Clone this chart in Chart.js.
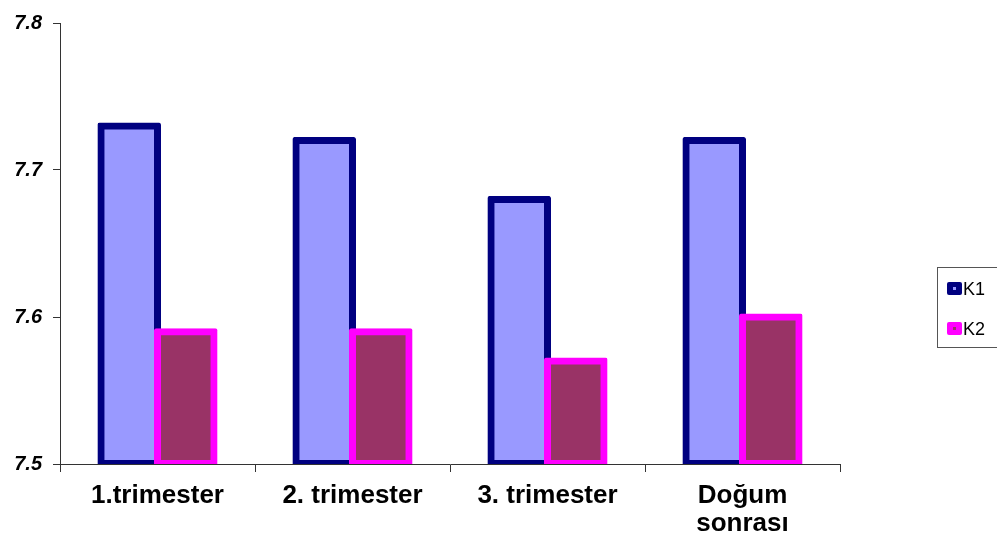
<!DOCTYPE html>
<html>
<head>
<meta charset="utf-8">
<script src="https://cdn.jsdelivr.net/npm/chart.js@4.4.1/dist/chart.umd.min.js"></script>
<style>
  html, body { margin: 0; padding: 0; background: #fff; overflow: hidden; }
  canvas { display: block; }
</style>
</head>
<body>
<canvas id="barChart" width="997" height="544"></canvas>
<script>
// Chart data
const categories = ['1.trimester', '2. trimester', '3. trimester', ['Doğum', 'sonrası']];
const seriesNames = ['K1', 'K2'];
const k1Values = [7.73, 7.72, 7.68, 7.72];
const k2Values = [7.59, 7.59, 7.57, 7.60];
const yTicks = [7.5, 7.6, 7.7, 7.8];
const yMin = 7.5;
const yMax = 7.8;

const fillColors = ['#9999FF', '#993366'];
const edgeColors = ['#000080', '#FF00FF'];

// Draw datasets first-to-last so the second series sits over the first one's edge
const forwardDraw = {
    id: 'forwardDraw',
    beforeDatasetsDraw(chart) {
        chart.getSortedVisibleDatasetMetas().forEach(meta => chart._drawDataset(meta));
        return false;
    }
};

// Boxed legend drawn on the right side of the canvas
const boxLegend = {
    id: 'boxLegend',
    afterDraw(chart) {
        const c = chart.ctx;
        c.save();
        c.strokeStyle = '#555';
        c.lineWidth = 1;
        c.strokeRect(937.5, 267.5, 80, 80);
        c.font = '18px Arial, "Liberation Sans", sans-serif';
        c.textBaseline = 'middle';
        chart.data.datasets.forEach((ds, i) => {
            const y = 289 + i * 40;
            c.fillStyle = ds.borderColor;
            c.beginPath();
            c.roundRect(947, y - 7, 15, 13, 2);
            c.fill();
            c.fillStyle = ds.backgroundColor;
            c.fillRect(953, y - 2, 3, 3);
            c.fillStyle = '#000';
            c.fillText(ds.label, 963, y + 1);
        });
        c.restore();
    }
};

const ctx = document.getElementById('barChart').getContext('2d');

new Chart(ctx, {
    type: 'bar',
    data: {
        labels: categories,
        datasets: [k1Values, k2Values].map((vals, i) => ({
            label: seriesNames[i],
            data: vals,
            base: yMin,
            backgroundColor: fillColors[i],
            borderColor: edgeColors[i],
            borderWidth: 7,
            borderSkipped: false,
            borderRadius: 2,
            inflateAmount: 3.5,
            clip: 0,
            barPercentage: 1,
            categoryPercentage: 0.58
        }))
    },
    options: {
        responsive: false,
        animation: false,
        layout: { padding: { top: 17, right: 157, left: 0, bottom: 0 } },
        plugins: {
            legend: { display: false },
            tooltip: { enabled: false }
        },
        scales: {
            x: {
                afterFit: (scale) => { scale.height = 80; },
                grid: { offset: true, drawOnChartArea: false, tickLength: 8, color: '#333' },
                border: { display: true, color: '#333', width: 1 },
                ticks: {
                    color: '#000',
                    padding: 10,
                    font: { family: 'Arial, "Liberation Sans", sans-serif', size: 26, weight: 'bold', lineHeight: 1.08 }
                }
            },
            y: {
                min: yMin,
                max: yMax,
                afterFit: (scale) => { scale.width = 60; },
                afterBuildTicks: (scale) => { scale.ticks = yTicks.map(v => ({ value: v })); },
                grid: { drawOnChartArea: false, tickLength: 7, color: '#333' },
                border: { display: true, color: '#333', width: 1 },
                ticks: {
                    color: '#000',
                    padding: 11,
                    callback: (v) => v.toFixed(1),
                    font: { family: 'Arial, "Liberation Sans", sans-serif', size: 20, weight: 'bold', style: 'italic' }
                }
            }
        }
    },
    plugins: [forwardDraw, boxLegend]
});
</script>
</body>
</html>
